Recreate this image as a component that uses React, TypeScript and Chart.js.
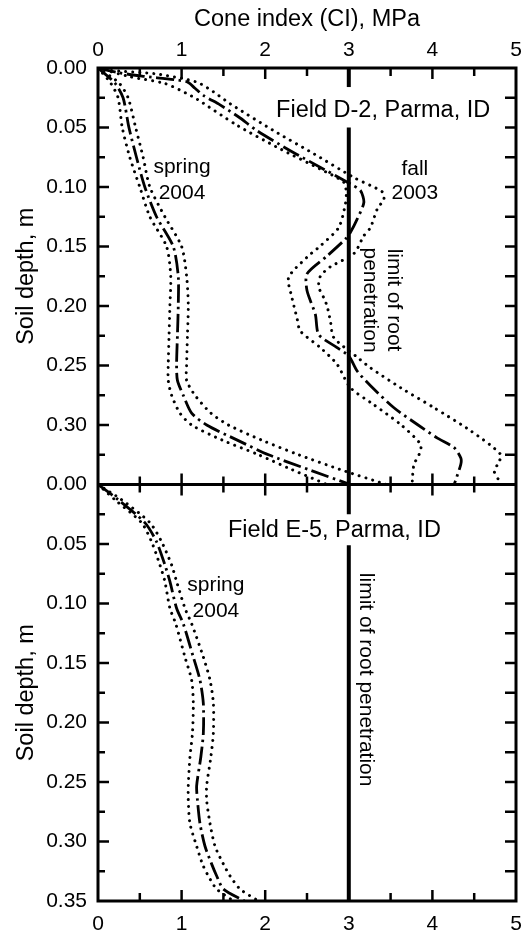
import React, { useEffect, useRef } from 'react';
import { Chart, registerables } from 'chart.js';

Chart.register(...registerables);

// ---------- axis ticks / labels ----------
const X_TICK_VALUES = [0, 1, 2, 3, 4, 5];
const X_TICK_LABELS = ['0', '1', '2', '3', '4', '5'];
const X_MARK_VALUES = [0, 0.5, 1, 1.5, 2, 2.5, 3, 3.5, 4, 4.5, 5];
const DEPTH_TICK_VALUES = [0, 0.05, 0.1, 0.15, 0.2, 0.25, 0.3, 0.35];
const TOP_DEPTH_LABELS = ['0.00', '0.05', '0.10', '0.15', '0.20', '0.25', '0.30', ''];
const BOT_DEPTH_LABELS = ['0.00', '0.05', '0.10', '0.15', '0.20', '0.25', '0.30', '0.35'];
const DEPTH_MARK_VALUES = [0.025, 0.05, 0.075, 0.1, 0.125, 0.15, 0.175, 0.2, 0.225, 0.25, 0.275, 0.3, 0.325];

const X_TITLE = 'Cone index (CI), MPa';
const Y_TITLE = 'Soil depth, m';
const LIMIT_CI = 3;

// ---------- Field D-2, spring 2004 ----------
const D2_SPRING_DEPTH = [0, 0.0125, 0.025, 0.05, 0.075, 0.1, 0.125, 0.15, 0.175, 0.2, 0.225, 0.25, 0.2625, 0.275, 0.29, 0.3, 0.3125, 0.325, 0.3375, 0.35];
const D2_SPRING_MEAN = [0, 0.2, 0.3, 0.37, 0.46, 0.56, 0.7, 0.9, 0.96, 0.96, 0.95, 0.94, 0.95, 1.02, 1.12, 1.3, 1.66, 2.04, 2.52, 3.02];
const D2_SPRING_LOW = [0, 0.15, 0.24, 0.29, 0.38, 0.5, 0.62, 0.82, 0.87, 0.86, 0.85, 0.84, 0.84, 0.88, 0.98, 1.12, 1.48, 1.92, 2.32, 2.74];
const D2_SPRING_HIGH = [0, 0.25, 0.36, 0.45, 0.54, 0.62, 0.8, 1.0, 1.06, 1.08, 1.07, 1.06, 1.06, 1.16, 1.35, 1.56, 1.95, 2.4, 2.9, 3.45];

// ---------- Field D-2, fall 2003 ----------
const D2_FALL_MEAN_DEPTH = [0, 0.004, 0.007, 0.0115, 0.017, 0.023, 0.031, 0.042, 0.0526, 0.0695, 0.085, 0.0975, 0.103, 0.113, 0.127, 0.138, 0.1437, 0.158, 0.173, 0.187, 0.207, 0.224, 0.235, 0.242, 0.2546, 0.267, 0.2855, 0.2996, 0.311, 0.319, 0.3277, 0.333, 0.346, 0.35];
const D2_FALL_MEAN = [0, 0.25, 0.55, 1.06, 1.16, 1.26, 1.46, 1.7, 1.9, 2.3, 2.7, 3.02, 3.14, 3.18, 3.1, 3.02, 2.96, 2.74, 2.5, 2.5, 2.6, 2.64, 2.86, 3.0, 3.1, 3.26, 3.54, 3.82, 4.06, 4.26, 4.34, 4.34, 4.28, 4.26];
const D2_FALL_HIGH_DEPTH = [0, 0.002, 0.005, 0.0118, 0.02, 0.03, 0.0526, 0.072, 0.092, 0.104, 0.11, 0.1186, 0.134, 0.141, 0.156, 0.167, 0.175, 0.184, 0.193, 0.2, 0.2125, 0.2265, 0.243, 0.252, 0.2687, 0.2855, 0.305, 0.325, 0.333, 0.339, 0.347, 0.35];
const D2_FALL_HIGH = [0, 0.14, 0.7, 1.18, 1.38, 1.58, 2.1, 2.58, 3.06, 3.4, 3.42, 3.34, 3.26, 3.18, 3.06, 2.78, 2.66, 2.64, 2.7, 2.74, 2.78, 2.82, 3.1, 3.26, 3.62, 4.02, 4.46, 4.82, 4.78, 4.74, 4.8, 4.82];
const D2_FALL_LOW_DEPTH = [0, 0.0073, 0.013, 0.021, 0.026, 0.048, 0.068, 0.085, 0.096, 0.105, 0.114, 0.134, 0.1495, 0.159, 0.176, 0.193, 0.21, 0.221, 0.235, 0.249, 0.2687, 0.283, 0.2996, 0.3164, 0.325, 0.333, 0.346, 0.35];
const D2_FALL_LOW = [0, 0.38, 0.8, 1.05, 1.18, 1.66, 2.18, 2.66, 2.94, 2.97, 2.96, 2.88, 2.66, 2.5, 2.28, 2.32, 2.38, 2.42, 2.66, 2.86, 3.02, 3.3, 3.62, 3.86, 3.84, 3.78, 3.76, 3.76];

// ---------- Field E-5, spring 2004 ----------
const E5_SPRING_DEPTH = [0, 0.0127, 0.032, 0.048, 0.0675, 0.0815, 0.104, 0.117, 0.145, 0.1644, 0.184, 0.209, 0.229, 0.2532, 0.2656, 0.285, 0.304, 0.319, 0.329, 0.34, 0.35];
const E5_SPRING_MEAN = [0, 0.24, 0.56, 0.7, 0.8, 0.86, 0.94, 1.02, 1.14, 1.22, 1.26, 1.26, 1.23, 1.18, 1.19, 1.22, 1.28, 1.36, 1.42, 1.5, 1.75];
const E5_SPRING_LOW = [0, 0.2, 0.52, 0.64, 0.74, 0.8, 0.86, 0.93, 1.04, 1.12, 1.14, 1.13, 1.1, 1.08, 1.08, 1.1, 1.18, 1.25, 1.32, 1.42, 1.62];
const E5_SPRING_HIGH = [0, 0.28, 0.62, 0.76, 0.88, 0.94, 1.04, 1.12, 1.26, 1.34, 1.38, 1.38, 1.35, 1.3, 1.3, 1.34, 1.4, 1.5, 1.58, 1.7, 1.92];

// ---------- styling ----------
const FONT_FAMILY = '"Liberation Sans", Arial, Helvetica, sans-serif';
const TICK_FONT = { size: 21, family: FONT_FAMILY };
const TEXT_FONT = `21px ${FONT_FAMILY}`;
const BIG_FONT = `23.5px ${FONT_FAMILY}`;

const MEAN_STYLE = { borderWidth: 2.8, borderDash: [18, 4.5, 2.5, 4.5], borderCapStyle: 'butt' };
const BAND_STYLE = { borderWidth: 3, borderDash: [0.01, 7], borderCapStyle: 'round' };

function series(depth: number[], ci: number[], yAxisID: string, style: any) {
  return {
    data: depth.map((d, i) => ({ x: ci[i], y: d })),
    xAxisID: 'x',
    yAxisID,
    showLine: true,
    pointRadius: 0,
    pointHoverRadius: 0,
    borderColor: '#000',
    backgroundColor: '#000',
    fill: false,
    tension: 0.25,
    ...style,
  };
}

// text annotations (anchored in data coordinates of each panel)
const TOP_TEXTS = [
  { text: 'Field D-2, Parma, ID', x: 2.13, y: 0.0412, font: BIG_FONT, align: 'left' },
  { text: 'spring', x: 1.005, y: 0.088, font: TEXT_FONT, align: 'center' },
  { text: '2004', x: 1.005, y: 0.11, font: TEXT_FONT, align: 'center' },
  { text: 'fall', x: 3.79, y: 0.0895, font: TEXT_FONT, align: 'center' },
  { text: '2003', x: 3.79, y: 0.11, font: TEXT_FONT, align: 'center' },
];
const BOT_TEXTS = [
  { text: 'Field E-5, Parma, ID', x: 1.555, y: 0.0441, font: BIG_FONT, align: 'left' },
  { text: 'spring', x: 1.41, y: 0.0892, font: TEXT_FONT, align: 'center' },
  { text: '2004', x: 1.41, y: 0.111, font: TEXT_FONT, align: 'center' },
];
const TOP_ROTATED = [
  { text: 'limit of root', x: 3.469, y: 0.195 },
  { text: 'penetration', x: 3.176, y: 0.195 },
];
const BOT_ROTATED = [{ text: 'limit of root penetration', x: 3.128, y: 0.164 }];
const TOP_LIMIT_SEGMENTS = [[0, 0.016], [0.05, 0.35]];
const BOT_LIMIT_SEGMENTS = [[0, 0.025], [0.051, 0.35]];

const decorPlugin = {
  id: 'decor',
  afterDatasetsDraw(chart: any) {
    const ctx = chart.ctx as CanvasRenderingContext2D;
    const { left, right, top, bottom } = chart.chartArea;
    const xs = chart.scales.x;
    const yT = chart.scales.yTop;
    const yB = chart.scales.yBot;
    const mid = yT.bottom;
    const line = (x1: number, y1: number, x2: number, y2: number) => {
      ctx.beginPath();
      ctx.moveTo(x1, y1);
      ctx.lineTo(x2, y2);
      ctx.stroke();
    };
    ctx.save();
    ctx.strokeStyle = '#000';
    ctx.fillStyle = '#000';
    ctx.lineCap = 'butt';
    ctx.setLineDash([]);

    // frame + panel divider
    ctx.lineWidth = 3;
    ctx.strokeRect(left, top, right - left, bottom - top);
    line(left, mid, right, mid);

    // x tick marks (inward)
    ctx.lineWidth = 2.5;
    X_MARK_VALUES.forEach((v) => {
      if (v === 0 || v === 5) return;
      const px = xs.getPixelForValue(v);
      const major = Number.isInteger(v);
      const len = major ? 11 : 8;
      line(px, top, px, top + len);
      line(px, bottom, px, bottom - len);
      line(px, mid - len, px, mid + len);
    });

    // y tick marks (inward) on both panels
    [yT, yB].forEach((s) => {
      DEPTH_MARK_VALUES.forEach((v) => {
        const py = s.getPixelForValue(v);
        const major = Math.abs(v / 0.05 - Math.round(v / 0.05)) < 1e-6;
        line(left, py, left + (major ? 11 : 7), py);
        line(right, py, right - 11, py);
      });
    });

    // limit of root penetration line
    ctx.lineWidth = 4;
    const lx = xs.getPixelForValue(LIMIT_CI);
    TOP_LIMIT_SEGMENTS.forEach(([a, b]) => line(lx, yT.getPixelForValue(a), lx, yT.getPixelForValue(b)));
    BOT_LIMIT_SEGMENTS.forEach(([a, b]) => line(lx, yB.getPixelForValue(a), lx, yB.getPixelForValue(b)));

    // texts
    ctx.textBaseline = 'alphabetic';
    const drawTexts = (list: any[], s: any) => {
      list.forEach((t) => {
        ctx.font = t.font;
        ctx.textAlign = t.align;
        ctx.fillText(t.text, xs.getPixelForValue(t.x), s.getPixelForValue(t.y));
      });
    };
    drawTexts(TOP_TEXTS, yT);
    drawTexts(BOT_TEXTS, yB);

    const drawRot = (list: any[], s: any) => {
      list.forEach((t) => {
        ctx.save();
        ctx.translate(xs.getPixelForValue(t.x), s.getPixelForValue(t.y));
        ctx.rotate(Math.PI / 2);
        ctx.font = TEXT_FONT;
        ctx.textAlign = 'center';
        ctx.textBaseline = 'alphabetic';
        ctx.fillText(t.text, 0, 0);
        ctx.restore();
      });
    };
    drawRot(TOP_ROTATED, yT);
    drawRot(BOT_ROTATED, yB);

    // y axis titles, one per panel
    [yT, yB].forEach((s) => {
      ctx.save();
      ctx.translate(left - 65, (s.top + s.bottom) / 2);
      ctx.rotate(-Math.PI / 2);
      ctx.font = BIG_FONT;
      ctx.textAlign = 'center';
      ctx.textBaseline = 'alphabetic';
      ctx.fillText(Y_TITLE, 0, 0);
      ctx.restore();
    });
    ctx.restore();
  },
};

function depthScale(labels: string[], weight: number) {
  return {
    type: 'linear',
    position: 'left',
    stack: 'depth',
    stackWeight: 1,
    weight,
    reverse: true,
    min: 0,
    max: 0.35,
    afterBuildTicks: (s: any) => {
      s.ticks = DEPTH_TICK_VALUES.map((v) => ({ value: v }));
    },
    ticks: {
      autoSkip: false,
      maxRotation: 0,
      padding: 11,
      color: '#000',
      font: TICK_FONT,
      callback: (_v: any, i: number) => labels[i],
    },
    grid: { display: false, drawTicks: false },
    border: { display: false },
    afterFit: (s: any) => {
      s.width = 98;
      s.paddingTop = 0;
      s.paddingBottom = 0;
    },
  };
}

function ciScale(position: string, height: number, padding: number, title: boolean) {
  return {
    type: 'linear',
    position,
    min: 0,
    max: 5,
    afterBuildTicks: (s: any) => {
      s.ticks = X_TICK_VALUES.map((v) => ({ value: v }));
    },
    ticks: {
      autoSkip: false,
      maxRotation: 0,
      padding,
      color: '#000',
      font: TICK_FONT,
      callback: (_v: any, i: number) => X_TICK_LABELS[i],
    },
    title: {
      display: title,
      text: X_TITLE,
      color: '#000',
      font: { size: 23.5, family: FONT_FAMILY },
      padding: { top: 5, bottom: 0 },
    },
    grid: { display: false, drawTicks: false },
    border: { display: false },
    afterFit: (s: any) => {
      s.height = height;
      s.paddingLeft = 0;
      s.paddingRight = 0;
    },
  };
}

export default function App() {
  const ref = useRef<HTMLCanvasElement>(null);
  useEffect(() => {
    if (!ref.current) return;
    const datasets = [
      series(D2_SPRING_DEPTH, D2_SPRING_LOW, 'yTop', BAND_STYLE),
      series(D2_SPRING_DEPTH, D2_SPRING_HIGH, 'yTop', BAND_STYLE),
      series(D2_SPRING_DEPTH, D2_SPRING_MEAN, 'yTop', MEAN_STYLE),
      series(D2_FALL_LOW_DEPTH, D2_FALL_LOW, 'yTop', BAND_STYLE),
      series(D2_FALL_HIGH_DEPTH, D2_FALL_HIGH, 'yTop', BAND_STYLE),
      series(D2_FALL_MEAN_DEPTH, D2_FALL_MEAN, 'yTop', MEAN_STYLE),
      series(E5_SPRING_DEPTH, E5_SPRING_LOW, 'yBot', BAND_STYLE),
      series(E5_SPRING_DEPTH, E5_SPRING_HIGH, 'yBot', BAND_STYLE),
      series(E5_SPRING_DEPTH, E5_SPRING_MEAN, 'yBot', MEAN_STYLE),
    ];
    const chart = new Chart(ref.current, {
      type: 'scatter',
      data: { datasets } as any,
      options: {
        animation: false,
        responsive: false,
        devicePixelRatio: 1,
        layout: { padding: { left: 0, right: 9, top: 0, bottom: 0 } },
        plugins: { legend: { display: false }, tooltip: { enabled: false } },
        scales: {
          x: ciScale('bottom', 35, 11, false),
          x2: ciScale('top', 68, 5, true),
          yBot: depthScale(BOT_DEPTH_LABELS, 0),
          yTop: depthScale(TOP_DEPTH_LABELS, 1),
        } as any,
      },
      plugins: [decorPlugin],
    } as any);
    return () => chart.destroy();
  }, []);
  return (
    <div style={{ position: 'absolute', left: 0, top: 0, width: 525, height: 936, background: '#fff' }}>
      <canvas ref={ref} width={525} height={936} style={{ display: 'block', width: 525, height: 936 }} />
    </div>
  );
}
